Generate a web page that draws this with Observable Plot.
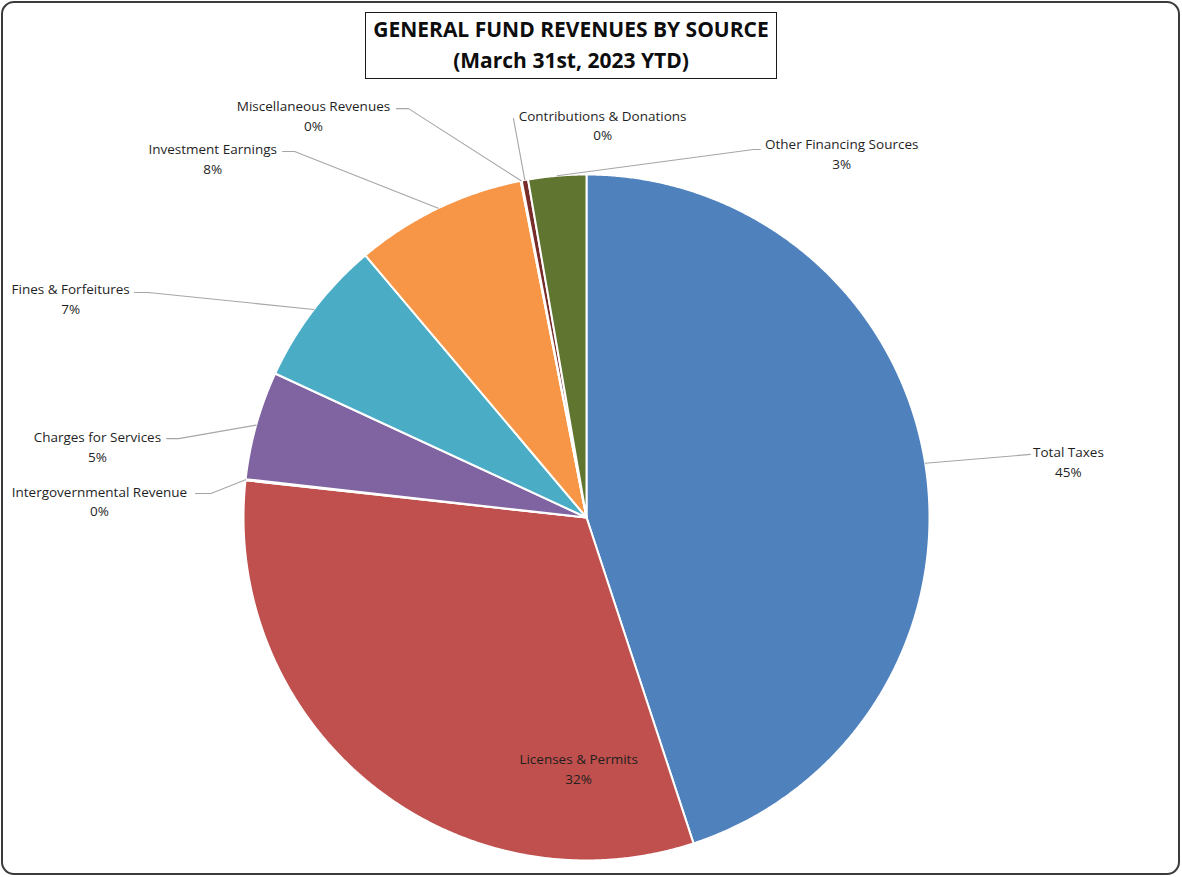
<!DOCTYPE html>
<html>
<head>
<meta charset="utf-8">
<script src="https://cdn.jsdelivr.net/npm/d3@7"></script>
<script src="https://cdn.jsdelivr.net/npm/@observablehq/plot@0.6"></script>
<style>
  html, body { margin: 0; padding: 0; background: #fff; }
  #wrap { position: relative; width: 1182px; height: 877px; overflow: hidden; font-family: "Open Sans", sans-serif; }
  #wrap svg { position: absolute; left: 0; top: 0; }
  #frame { position: absolute; left: 1px; top: 1px; width: 1179px; height: 874px; box-sizing: border-box;
           border: 2px solid #3b3b3b; border-radius: 13px; pointer-events: none; }
  #title { position: absolute; left: 365px; top: 12px; width: 412px; height: 67px; box-sizing: border-box;
           border: 1.5px solid #1a1a1a; background: #fff; text-align: center; font-weight: 700;
           font-size: 21px; line-height: 31px; color: #0d0d0d; padding-top: 1px; letter-spacing: 0px;
           white-space: nowrap; }
</style>
</head>
<body>
<div id="wrap">
  <div id="frame"></div>
  <div id="title">GENERAL FUND REVENUES BY SOURCE<br>(March 31st, 2023 YTD)</div>
</div>
<script>
// ---- data ----
const names = ["Total Taxes", "Licenses & Permits", "Intergovernmental Revenue", "Charges for Services",
               "Fines & Forfeitures", "Investment Earnings", "Miscellaneous Revenues",
               "Contributions & Donations", "Other Financing Sources"];
const shares = [44.86, 31.72, 0.05, 5.10, 6.94, 8.06, 0.05, 0.30, 2.72];
const colors = ["#4F81BD", "#C0504D", "#9BBB59", "#8064A2", "#4BACC6", "#F79646", "#2C4D75", "#772C2A", "#5F7530"];

// label placement (in pie-radius units, centre of pie at 0,0)
const labelX = [1.405, -0.023, -1.420, -1.426, -1.504, -1.090, -0.796, 0.047, 0.744];
const labelY = [0.166, -0.729, 0.050, 0.210, 0.641, 1.049, 1.175, 1.147, 1.064];
// leader-line end next to the label (null = label inside slice)
const anchorX = [1.294, null, -1.140, -1.224, -1.318, -0.886, -0.554, -0.213, 0.507];
const anchorY = [0.184, null, 0.070, 0.230, 0.656, 1.067, 1.192, 1.163, 1.073];
const elbowDX = [0, null, 0.045, 0.035, 0.04, 0.035, 0.035, 0, -0.02];

// ---- build ----
const total = d3.sum(shares);
const pie = d3.pie().sort(null).value(i => shares[i])(d3.range(names.length));

const slicePts = [];
const leaderPts = [];
pie.forEach(a => {
  const i = a.data;
  const n = Math.max(2, Math.ceil((a.endAngle - a.startAngle) / 0.005));
  slicePts.push({name: names[i], x: 0, y: 0});
  for (let k = 0; k <= n; k++) {
    const t = a.startAngle + (a.endAngle - a.startAngle) * k / n;
    slicePts.push({name: names[i], x: Math.sin(t), y: Math.cos(t)});
  }
  if (anchorX[i] != null) {
    const m = (a.startAngle + a.endAngle) / 2;
    leaderPts.push({name: names[i], x: Math.sin(m), y: Math.cos(m)});
    if (elbowDX[i]) leaderPts.push({name: names[i], x: anchorX[i] + elbowDX[i], y: anchorY[i]});
    leaderPts.push({name: names[i], x: anchorX[i], y: anchorY[i]});
  }
});

const fmt = d3.format(".0%");
const labels = names.map((nm, i) => ({
  x: labelX[i], y: labelY[i],
  text: nm + "\n" + fmt(shares[i] / total)
}));

const chart = Plot.plot({
  width: 1182,
  height: 877,
  margin: 0,
  x: {domain: [-1.7085, 1.7376], axis: null},
  y: {domain: [-1.0496, 1.5073], axis: null},
  color: {domain: names, range: colors},
  style: {fontFamily: "Open Sans, sans-serif", background: "transparent"},
  marks: [
    Plot.line(slicePts, {x: "x", y: "y", z: "name", fill: "name", stroke: "#ffffff", strokeWidth: 2,
                         curve: "linear-closed", strokeLinejoin: "round"}),
    Plot.line(leaderPts, {x: "x", y: "y", z: "name", stroke: "#a6a6a6", strokeWidth: 1.1}),
    Plot.text(labels, {x: "x", y: "y", text: "text", fontSize: 13.5, lineHeight: 1.45,
                       fill: "#1f1f1f"})
  ]
});
document.getElementById("wrap").prepend(chart);
</script>
</body>
</html>
